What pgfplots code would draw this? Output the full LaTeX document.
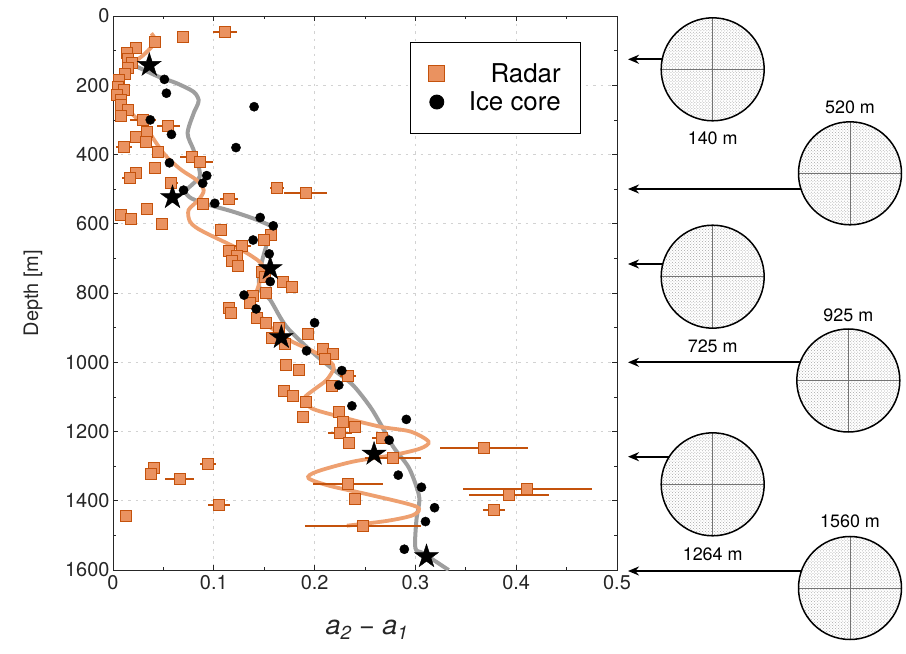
\documentclass[border=0pt]{standalone}
\usepackage{fontspec}
\setmainfont{TeX Gyre Heros}
\usepackage{pgfplots}
\pgfplotsset{compat=1.18}
\usepackage{pgfplotstable}
\usetikzlibrary{patterns,arrows.meta}
\definecolor{radarfill}{RGB}{234,146,96}
\definecolor{radaredge}{RGB}{196,82,12}
\definecolor{radarline}{RGB}{238,160,112}
\definecolor{iceline}{RGB}{158,158,158}

\pgfdeclareplotmark{fstar}{%
  \pgfpathmoveto{\pgfpointpolar{90}{\pgfplotmarksize}}%
  \pgfpathlineto{\pgfpointpolar{126}{0.382\pgfplotmarksize}}%
  \pgfpathlineto{\pgfpointpolar{162}{\pgfplotmarksize}}%
  \pgfpathlineto{\pgfpointpolar{198}{0.382\pgfplotmarksize}}%
  \pgfpathlineto{\pgfpointpolar{234}{\pgfplotmarksize}}%
  \pgfpathlineto{\pgfpointpolar{270}{0.382\pgfplotmarksize}}%
  \pgfpathlineto{\pgfpointpolar{306}{\pgfplotmarksize}}%
  \pgfpathlineto{\pgfpointpolar{342}{0.382\pgfplotmarksize}}%
  \pgfpathlineto{\pgfpointpolar{18}{\pgfplotmarksize}}%
  \pgfpathlineto{\pgfpointpolar{54}{0.382\pgfplotmarksize}}%
  \pgfpathclose\pgfusepathqfillstroke}

\pgfplotstableread{
a d e
0.111 46 0.012
0.069 62 0
0.042 75 0
0.023 92 0
0.014 108 0
0.015 124 0
0.019 137 0
0.015 151 0
0.012 167 0
0.006 185 0
0.005 204 0
0.011 214 0
0.004 228 0
0.008 243 0
0.008 257 0
0.015 271 0.005
0.008 289 0
0.030 300 0.013
0.055 318 0.011
0.034 334 0
0.023 349 0
0.033 363 0.006
0.011 377 0.008
0.045 392 0.006
0.078 406 0.012
0.086 421 0.013
0.042 438 0
0.0225 453 0.006
0.017 467 0.008
0.058 481 0.006
0.163 498 0.007
0.191 512 0.021
0.115 528 0.009
0.089 543 0
0.034 558 0
0.008 574 0
0.018 587 0
0.049 602 0
0.107 618 0
0.157 633 0
0.150 647 0
0.128 663 0.009
0.115 678 0
0.123 693 0
0.118 707 0
0.124 723 0
0.148 738 0
0.151 753 0
0.169 767 0
0.178 782 0
0.152 799 0
0.139 809 0
0.136 828 0
0.115 844 0
0.117 857 0
0.143 873 0
0.152 888 0
0.165 902 0
0.193 917 0
0.158 931 0
0.171 947 0
0.208 963 0
0.218 977 0
0.210 992 0
0.172 1008 0
0.185 1022 0
0.233 1039 0.008
0.217 1069 0
0.170 1083 0
0.179 1097 0
0.191 1114 0
0.224 1143 0
0.188 1157 0
0.228 1173 0
0.240 1186 0
0.225 1203 0.012
0.267 1218 0.010
0.234 1232 0
0.368 1249 0.044
0.278 1277 0.028
0.094 1293 0.008
0.041 1306 0
0.038 1323 0.005
0.066 1337 0.014
0.233 1352 0.035
0.411 1367 0.064
0.393 1383 0.040
0.240 1396 0
0.105 1412 0.011
0.378 1427 0.011
0.013 1443 0
0.248 1473 0.058
}\radar

\pgfplotstableread{
a d
0.051 183
0.053 223
0.140 262
0.037 300
0.058 342
0.122 380
0.056 424
0.093 461
0.089 483
0.070 503
0.101 541
0.146 582
0.159 606
0.139 647
0.155 687
0.156 767
0.130 806
0.142 846
0.200 886
0.192 967
0.227 1024
0.224 1066
0.237 1126
0.291 1165
0.274 1225
0.283 1326
0.306 1361
0.319 1420
0.310 1460
0.289 1540
}\icecore

\pgfplotstableread{
a d
0.036 142
0.059 524
0.156 729
0.167 928
0.259 1265
0.311 1561
}\stars

\pgfplotstableread{
a d
0.0235 146
0.045 175
0.063 194
0.080 219
0.085 243
0.083 262
0.080 281
0.074 339
0.080 387
0.085 435
0.086 464
0.080 483
0.072 507
0.078 527
0.096 546
0.119 565
0.143 589
0.159 613
0.154 647
0.149 695
0.145 748
0.146 791
0.156 820
0.172 897
0.199 974
0.219 1022
0.238 1066
0.255 1128
0.265 1176
0.278 1244
0.293 1302
0.301 1359
0.304 1398
0.301 1456
0.300 1537
0.308 1552
0.333 1600
}\iceline

\pgfplotstableread{
a d
0.038 50
0.042 74
0.032 108
0.020 137
0.010 175
0.005 214
0.007 243
0.015 271
0.025 300
0.032 318
0.042 363
0.053 406
0.068 445
0.083 474
0.090 503
0.085 531
0.075 560
0.076 592
0.082 610
0.093 628
0.113 656
0.133 685
0.148 719
0.146 762
0.142 801
0.140 830
0.152 888
0.175 936
0.199 969
0.215 998
0.219 1017
0.212 1051
0.199 1080
0.190 1104
0.197 1133
0.225 1157
0.265 1186
0.295 1200
0.313 1229
0.305 1249
0.278 1268
0.238 1287
0.202 1316
0.194 1335
0.215 1357
0.255 1383
0.301 1417
0.298 1441
0.272 1458
0.232 1472
}\radarline

\begin{document}
\begin{tikzpicture}
\path[use as bounding box] (0,0) rectangle (906bp,-654bp);
\begin{axis}[
  at={(365bp,-293bp)}, anchor=center,
  width=504bp, height=554bp, scale only axis,
  xmin=0, xmax=0.5, ymin=0, ymax=1600, y dir=reverse,
  xtick={0,0.1,0.2,0.3,0.4,0.5},
  xticklabels={0,0.1,0.2,0.3,0.4,0.5},
  ytick={0,200,400,600,800,1000,1200,1400,1600},
  yticklabels={0,200,400,600,800,1000,1200,1400,1600},
  minor x tick num=1, minor y tick num=1,
  tick align=inside, major tick length=5bp, minor tick length=3bp,
  xmajorgrids, ymajorgrids,
  major grid style={gray!35, dash pattern=on 2.5bp off 5bp, line width=0.8bp},
  axis line style={line width=0.9bp, black!85},
  tick style={black!85, line width=0.7bp},
  ticklabel style={font=\fontsize{20}{24}\selectfont, text=black!85},
  xticklabel style={yshift=-2bp},
  legend style={at={(0.59,0.953)}, anchor=north west,
    font=\fontsize{26}{30}\selectfont, draw=black, line width=0.9bp,
    inner xsep=18bp, inner ysep=19bp, row sep=4bp,
    /tikz/every odd column/.append style={column sep=22bp}},
  legend cell align=right,
]
\addplot[iceline, line width=4bp, smooth, forget plot] table[x=a,y=d]{\iceline};
\addplot[radarline, line width=3.8bp, smooth, forget plot] table[x=a,y=d]{\radarline};
\addplot[only marks, mark=square*, mark size=5.5bp,
  mark options={fill=radarfill, draw=radaredge, line width=1bp}, forget plot,
  error bars/.cd, x dir=both, x explicit,
  error bar style={radaredge, line width=2bp}, error mark=none
  ] table[x=a, y=d, x error=e]{\radar};
\addplot[only marks, mark=*, mark size=4.6bp, black, forget plot] table[x=a,y=d]{\icecore};
\addplot[only marks, mark=fstar, mark size=12.5bp, black, forget plot] table[x=a,y=d]{\stars};
\addlegendimage{only marks, mark=square*, mark size=8bp, mark options={fill=radarfill, draw=radaredge, line width=1bp}}
\addlegendentry{Radar}
\addlegendimage{only marks, mark=*, mark size=7bp, black}
\addlegendentry{Ice core}
\end{axis}
\begin{scope}[x=1bp,y=-1bp]
\node[rotate=90, font=\fontsize{20}{24}\selectfont, text=black!85] at (33,293) {Depth [m]};
\node[font=\fontsize{27}{32}\selectfont\itshape, text=black!85] at (367,630) {a\textsubscript{2} − a\textsubscript{1}};
\foreach \cx/\cy/\lab/\ly/\ay/\ax in {712.7/69.3/140 m/138/59.3/661.5, 850/173.3/520 m/107.3/189/801, 712.7/276.7/725 m/346.7/264/662.8, 848.3/380.5/925 m/315/362.3/800, 712.7/484.3/1264 m/554/456.7/669.2, 850/588/1560 m/521.7/571/801.4}{
  \fill[pattern=crosshatch dots, pattern color=black!35] (\cx,\cy) circle[radius=51.5];
  \draw[black!55, line width=0.7bp] (\cx-51.5,\cy) -- (\cx+51.5,\cy) (\cx,\cy-51.5) -- (\cx,\cy+51.5);
  \draw[line width=1.5bp] (\cx,\cy) circle[radius=51.5];
  \draw[-{Stealth[length=11bp,width=9bp]}, line width=1.9bp] (\ax,\ay) -- (628,\ay);
  \node[font=\fontsize{18}{21}\selectfont] at (\cx,\ly) {\lab};
}
\end{scope}
\end{tikzpicture}
\end{document}
